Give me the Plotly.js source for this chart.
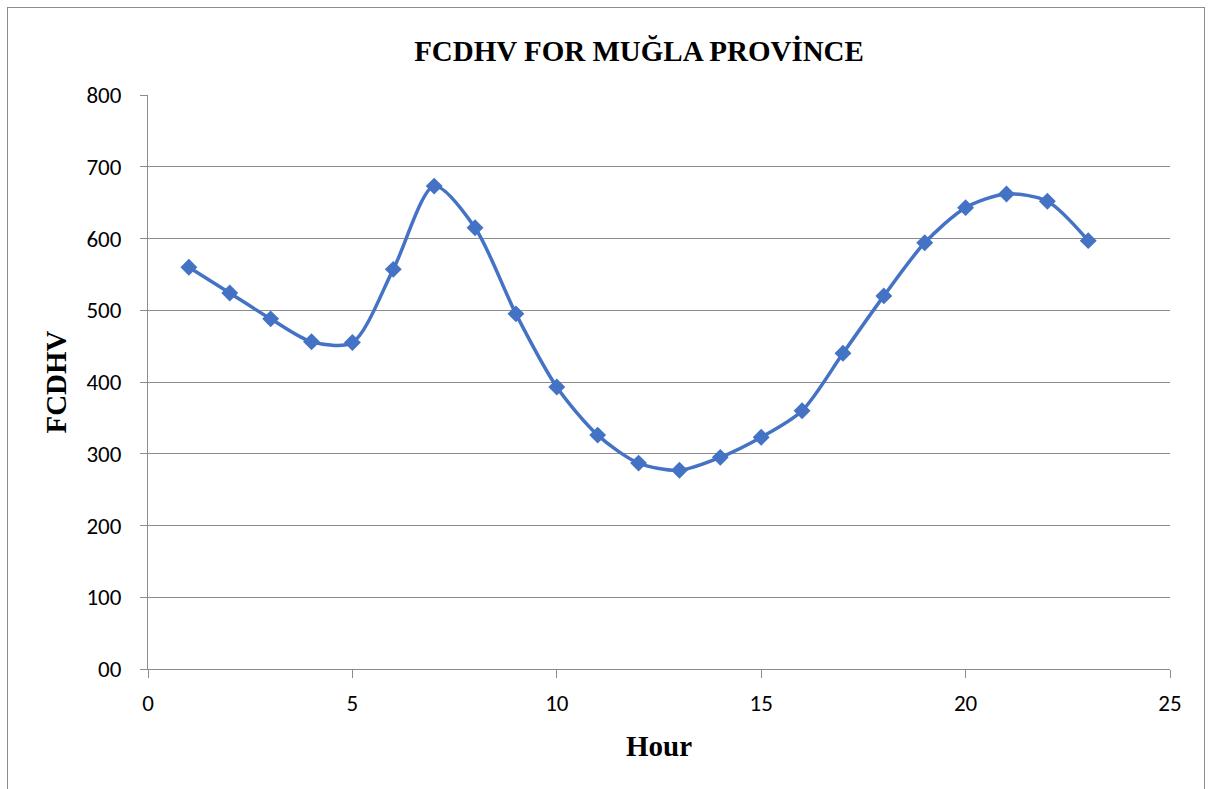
<!DOCTYPE html>
<html>
<head>
<meta charset="utf-8">
<script src="https://cdn.plot.ly/plotly-3.0.1.min.js"></script>
<style>
html,body{margin:0;padding:0;background:#fff;}
#wrap{position:relative;width:1208px;height:789px;}
#chart{width:1208px;height:789px;}
#frame{position:absolute;left:7px;top:7px;width:1196px;height:800px;border:1px solid #8c8c8c;pointer-events:none;}
</style>
</head>
<body>
<div id="wrap"><div id="chart"></div><div id="frame"></div></div>
<script>
const hours = [1,2,3,4,5,6,7,8,9,10,11,12,13,14,15,16,17,18,19,20,21,22,23];
const fcdhv = [560,524,488,456,455,557,673,615,495,393,326,287,277,295,323,360,440,520,594,643,662,652,597];
const yTickVals = [0,100,200,300,400,500,600,700,800];
const yTickText = ["00","100","200","300","400","500","600","700","800"];
const xTickVals = [0,5,10,15,20,25];

const trace = {
  x: hours, y: fcdhv, type: 'scatter', mode: 'lines+markers',
  line: {color: '#4472C4', width: 3.5, shape: 'spline', smoothing: 0.8},
  marker: {symbol: 'diamond', size: 13, color: '#4472C4'},
  hoverinfo: 'x+y'
};

const tickFont = {family: 'Carlito, Lato, "Noto Sans", sans-serif', size: 23, color: '#000'};
const serif = '"Liberation Serif", "Times New Roman", serif';
const layout = {
  width: 1208, height: 789,
  margin: {l: 148, r: 38, t: 95, b: 120},
  paper_bgcolor: '#fff', plot_bgcolor: '#fff',
  showlegend: false,
  title: {text: '<b>FCDHV FOR MUĞLA PROVİNCE</b>', x: 0.529, xanchor: 'center', y: 0.936, yanchor: 'middle',
          font: {family: serif, size: 29, color: '#000'}},
  xaxis: {
    range: [0, 25], tickvals: xTickVals, ticktext: xTickVals.map(String),
    showgrid: false, zeroline: false, showline: true, linecolor: '#8c8c8c', linewidth: 1,
    ticks: 'outside', ticklen: 8, tickcolor: '#8c8c8c', tickfont: tickFont, ticklabelstandoff: 5,
    title: {text: '<b>Hour</b>', standoff: 20, font: {family: serif, size: 29, color: '#000'}}
  },
  yaxis: {
    range: [0, 800], tickvals: yTickVals, ticktext: yTickText,
    showgrid: true, gridcolor: '#8c8c8c', gridwidth: 1, zeroline: false,
    showline: true, linecolor: '#8c8c8c', linewidth: 1,
    ticks: 'outside', ticklen: 7, tickcolor: '#8c8c8c', tickfont: tickFont, ticklabelstandoff: 14,
    title: {text: '<b>FCDHV</b>', standoff: 11, font: {family: serif, size: 29, color: '#000'}}
  }
};
Plotly.newPlot('chart', [trace], layout, {displayModeBar: false, staticPlot: true});
</script>
</body>
</html>
